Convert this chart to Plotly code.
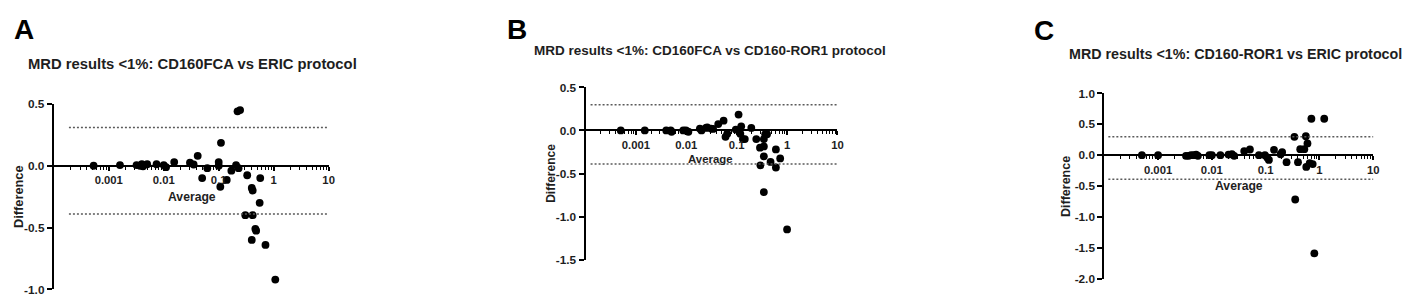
import plotly.graph_objects as go

# ---------------- data ----------------
titles = ["MRD results <1%: CD160FCA vs ERIC protocol",
          "MRD results <1%: CD160FCA vs CD160-ROR1 protocol",
          "MRD results <1%: CD160-ROR1 vs ERIC protocol"]
panel_letters = ["A", "B", "C"]

A_avg = [0.00053, 0.0016, 0.0032, 0.0037, 0.0042, 0.0040, 0.005, 0.0074, 0.010, 0.011,
         0.0155, 0.030, 0.035, 0.0415, 0.050, 0.062, 0.100, 0.100, 0.110, 0.107,
         0.140, 0.170, 0.207, 0.230, 0.220, 0.245, 0.330, 0.400, 0.415, 0.570,
         0.556, 0.305, 0.415, 0.464, 0.480, 0.400, 0.710, 1.07]
A_diff = [0.0, 0.005, 0.005, 0.0, -0.005, 0.012, 0.012, 0.012, 0.005, -0.012,
          0.03, 0.025, 0.01, 0.08, -0.10, -0.02, 0.03, 0.0, 0.185, -0.17,
          -0.115, -0.04, 0.005, -0.02, 0.44, 0.45, -0.077, -0.18, -0.20, -0.10,
          -0.30, -0.40, -0.40, -0.51, -0.525, -0.60, -0.64, -0.92]

B_avg = [0.0005, 0.0015, 0.004, 0.0049, 0.0051, 0.0087, 0.0098, 0.011, 0.0186, 0.020,
         0.0245, 0.026, 0.031, 0.034, 0.043, 0.055, 0.060, 0.065, 0.096, 0.109,
         0.123, 0.118, 0.133, 0.145, 0.195, 0.245, 0.290, 0.346, 0.346, 0.368,
         0.400, 0.346, 0.296, 0.346, 0.470, 0.600, 0.600, 0.730, 1.00]
B_diff = [0.0, 0.0, 0.0, 0.0, -0.015, 0.0, 0.0, -0.015, 0.022, 0.0,
          0.03, 0.037, 0.022, 0.018, 0.074, 0.114, -0.074, -0.037, 0.01, 0.185,
          0.048, -0.037, -0.10, -0.10, 0.03, -0.10, -0.20, -0.185, -0.10, -0.044,
          -0.044, -0.30, -0.405, -0.716, -0.365, -0.22, -0.43, -0.325, -1.15]

C_avg = [0.0005, 0.001, 0.0033, 0.0037, 0.0041, 0.0046, 0.0051, 0.0055, 0.009, 0.010,
         0.0144, 0.0204, 0.0236, 0.026, 0.040, 0.051, 0.075, 0.097, 0.107, 0.115,
         0.143, 0.190, 0.203, 0.245, 0.343, 0.400, 0.440, 0.525, 0.560, 0.600,
         0.570, 0.660, 0.750, 0.710, 1.23, 0.355, 0.805]
C_diff = [0.0, 0.0, -0.01, -0.01, 0.0, 0.0, 0.01, -0.01, 0.0, 0.0,
          0.0, 0.01, 0.015, -0.01, 0.067, 0.092, 0.0, 0.0, -0.036, -0.077,
          0.087, 0.015, 0.05, -0.113, 0.297, -0.113, 0.097, 0.097, 0.308, 0.19,
          -0.19, -0.128, -0.144, 0.59, 0.59, -0.718, -1.59]

limits_A = [0.31, -0.39]
limits_B = [0.30, -0.39]
limits_C = [0.30, -0.39]

x_tickvals = [0.001, 0.01, 0.1, 1, 10]
x_ticktext = ["0.001", "0.01", "0.1", "1", "10"]
x_range_log = [-4, 1]
# minor log ticks: 2..9 within each decade of the axis
x_minor_vals = [m * 10.0 ** e for e in range(-4, 1) for m in range(2, 10)]

A_yticks = [0.5, 0.0, -0.5, -1.0]
A_yticktext = ["0.5", "0.0", "-0.5", "-1.0"]
B_yticks = [0.5, 0.0, -0.5, -1.0, -1.5]
B_yticktext = ["0.5", "0.0", "-0.5", "-1.0", "-1.5"]
C_yticks = [1.0, 0.5, 0.0, -0.5, -1.0, -1.5, -2.0]
C_yticktext = ["1.0", "0.5", "0.0", "-0.5", "-1.0", "-1.5", "-2.0"]

# ---------------- layout geometry (pixels) ----------------
W, H = 1410, 297
FONT = "Liberation Sans, Arial, sans-serif"
TXT = "#1e1e1e"

panels = [
    dict(x=A_avg, y=A_diff, lim=limits_A, yt=A_yticks, ytt=A_yticktext,
         xpx=(46, 322), ypx=(93.3, 288.0), lim_start=0.055,
         letter=(16, 15), title=(185, 51.7), tsize=14.8,
         ytitle=(10, 190), ysize=12.8, xtitle=(185, 191), xsize=12.2),
    dict(x=B_avg, y=B_diff, lim=limits_B, yt=B_yticks, ytt=B_yticktext,
         xpx=(580, 833), ypx=(76.0, 256.7), lim_start=0.02,
         letter=(511, 15), title=(705, 37.7), tsize=13.5,
         ytitle=(545, 166), ysize=12.0, xtitle=(706, 151), xsize=11.4),
    dict(x=C_avg, y=C_diff, lim=limits_C, yt=C_yticks, ytt=C_yticktext,
         xpx=(1101, 1371), ypx=(82.3, 276.7), lim_start=0.015,
         letter=(1040, 16), title=(1233, 40.5), tsize=14.3,
         ytitle=(1062, 180), ysize=12.5, xtitle=(1236, 179), xsize=12.2),
]

fig = go.Figure()
annotations = []
shapes = []

for i, p in enumerate(panels):
    sfx = "" if i == 0 else str(i + 1)
    xa, ya = "x" + sfx, "y" + sfx
    ymin, ymax = min(p["yt"]), max(p["yt"])
    xdom = [p["xpx"][0] / W, p["xpx"][1] / W]
    ydom = [1 - p["ypx"][1] / H, 1 - p["ypx"][0] / H]
    zero_pos = ydom[0] + (0 - ymin) / (ymax - ymin) * (ydom[1] - ydom[0])

    fig.add_trace(go.Scatter(x=p["x"], y=p["y"], mode="markers", xaxis=xa, yaxis=ya,
                             marker=dict(size=7.8, color="black"),
                             showlegend=False, cliponaxis=False))

    fig.layout["xaxis" + sfx] = dict(
        type="log", range=x_range_log, domain=xdom, anchor="free", position=zero_pos,
        showline=True, linewidth=2, linecolor="black", showgrid=False, zeroline=False,
        ticks="outside", ticklen=4, tickwidth=1.5, tickcolor="black",
        tickmode="array", tickvals=x_tickvals, ticktext=x_ticktext,
        tickfont=dict(family=FONT, size=11.3, color=TXT, weight="bold"),
        minor=dict(ticks="outside", ticklen=3, tickwidth=1, tickcolor="black",
                   tickmode="array", tickvals=x_minor_vals, showgrid=False),
    )
    fig.layout["yaxis" + sfx] = dict(
        range=[ymin, ymax], domain=ydom, anchor=xa,
        showline=True, linewidth=2, linecolor="black", showgrid=False, zeroline=False,
        ticks="outside", ticklen=5, tickwidth=2, tickcolor="black",
        tickvals=p["yt"], ticktext=p["ytt"],
        tickfont=dict(family=FONT, size=11.8, color=TXT, weight="bold"),
    )

    for lv in p["lim"]:
        shapes.append(dict(type="line", xref=xa + " domain", yref=ya,
                           x0=p["lim_start"], x1=1, y0=lv, y1=lv,
                           line=dict(color="#5a5a5a", width=1.5, dash="2px,2px")))

    annotations.append(dict(text="<b>" + panel_letters[i] + "</b>", x=p["letter"][0] / W,
                            y=1 - p["letter"][1] / H, xref="paper", yref="paper",
                            showarrow=False, xanchor="center", yanchor="middle",
                            font=dict(family=FONT, size=28, color="black")))
    annotations.append(dict(text="<b>" + titles[i] + "</b>", x=p["title"][0] / W,
                            y=1 - p["title"][1] / H, xref="paper", yref="paper",
                            showarrow=False, xanchor="center", yanchor="middle",
                            font=dict(family=FONT, size=p["tsize"], color=TXT)))
    annotations.append(dict(text="<b>Difference</b>", x=p["ytitle"][0] / W,
                            y=1 - p["ytitle"][1] / H, xref="paper", yref="paper",
                            showarrow=False, xanchor="center", yanchor="middle",
                            textangle=-90,
                            font=dict(family=FONT, size=p["ysize"], color=TXT)))
    annotations.append(dict(text="<b>Average</b>", x=p["xtitle"][0] / W,
                            y=1 - p["xtitle"][1] / H, xref="paper", yref="paper",
                            showarrow=False, xanchor="center", yanchor="middle",
                            font=dict(family=FONT, size=p["xsize"], color=TXT)))

fig.update_layout(width=W, height=H, margin=dict(l=0, r=0, t=0, b=0),
                  paper_bgcolor="white", plot_bgcolor="white",
                  annotations=annotations, shapes=shapes, showlegend=False)

fig.write_html("out.html")
